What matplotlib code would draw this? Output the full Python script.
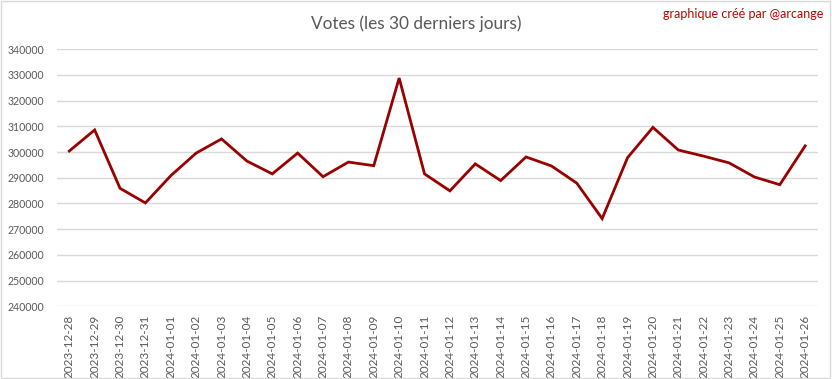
import matplotlib.pyplot as plt
from matplotlib.patches import Rectangle

dates = [
    "2023-12-28", "2023-12-29", "2023-12-30", "2023-12-31",
    "2024-01-01", "2024-01-02", "2024-01-03", "2024-01-04", "2024-01-05",
    "2024-01-06", "2024-01-07", "2024-01-08", "2024-01-09", "2024-01-10",
    "2024-01-11", "2024-01-12", "2024-01-13", "2024-01-14", "2024-01-15",
    "2024-01-16", "2024-01-17", "2024-01-18", "2024-01-19", "2024-01-20",
    "2024-01-21", "2024-01-22", "2024-01-23", "2024-01-24", "2024-01-25",
    "2024-01-26",
]
votes = [
    300400, 308600, 285900, 280200, 290800, 299600, 305100, 296500, 291500,
    299600, 290400, 296100, 294700, 328800, 291500, 284900, 295400, 288900,
    298100, 294600, 287900, 274100, 297800, 309600, 300800, 298400, 295800,
    290300, 287300, 302400,
]
yticks = list(range(240000, 340001, 10000))

plt.rcParams['font.family'] = ['Lato', 'DejaVu Sans']

fig = plt.figure(figsize=(8.32, 3.79), dpi=100)
ax = fig.add_axes([0.068, 0.192, 0.915, 0.678])

x = list(range(len(dates)))
ax.plot(x, votes, color='#990000', linewidth=2, solid_joinstyle='miter')

ax.set_xlim(-0.5, len(dates) - 0.5)
ax.set_ylim(240000, 340000)
ax.set_yticks(yticks)
ax.set_yticklabels([str(v) for v in yticks])
ax.set_xticks(x)
ax.set_xticklabels(dates, rotation=90)
ax.tick_params(axis='both', length=0, colors='#595959')
ax.tick_params(axis='y', pad=9, labelsize=7.6)
ax.tick_params(axis='x', pad=6, labelsize=8.5)
ax.grid(axis='y', color='#D9D9D9', linewidth=1)
ax.set_axisbelow(True)
for s in ax.spines.values():
    s.set_visible(False)

fig.text(0.5, 0.938, "Votes (les 30 derniers jours)", ha='center', va='center',
         fontsize=12.4, color='#595959')
fig.text(0.99, 0.962, "graphique créé par @arcange", ha='right', va='center',
         fontsize=9, color='#C00000')

fig.patches.append(Rectangle((0.001, 0.002), 0.997, 0.995, transform=fig.transFigure,
                             fill=False, edgecolor='#D9D9D9', linewidth=1))

fig.savefig("out.png", dpi=100)
